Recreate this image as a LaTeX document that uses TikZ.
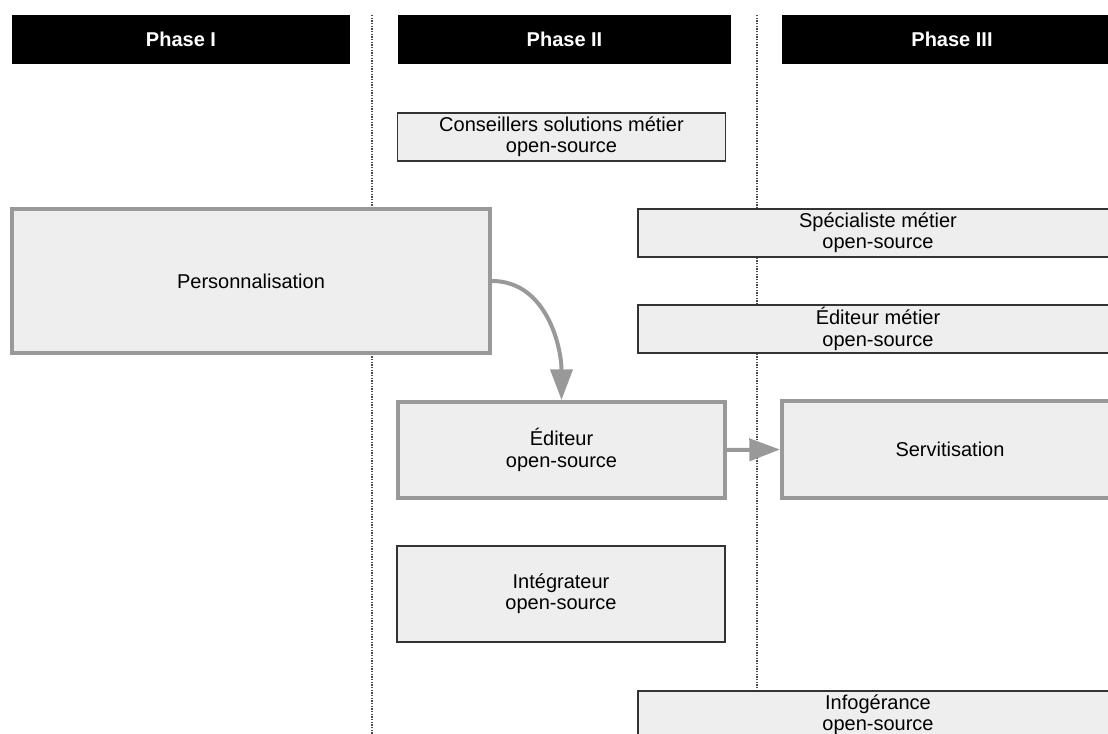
\documentclass[tikz,border=0pt]{standalone}
\usepackage{fontspec}
\setmainfont{Liberation Sans}
\usetikzlibrary{arrows.meta}
\definecolor{boxfill}{HTML}{EEEEEE}
\definecolor{thickgray}{HTML}{999999}
\definecolor{thinline}{HTML}{333333}

\begin{document}
\begin{tikzpicture}[x=0.75pt,y=-0.75pt,
  phase/.style={fill=black,text=white,font=\bfseries\fontsize{15}{16}\selectfont,
    minimum height=49*0.75pt,inner sep=0pt},
  role/.style={draw=thinline,line width=1.1pt,fill=boxfill,align=center,
    font=\fontsize{15}{16}\selectfont,inner sep=0pt},
  stage/.style={draw=thickgray,line width=3pt,fill=boxfill,align=center,
    font=\fontsize{15}{16}\selectfont,inner sep=0pt},
  flow/.style={draw=thickgray,line width=3pt,-{Triangle[length=23pt,width=16.5pt]}}]
\useasboundingbox (0,0) rectangle (1108,734);
\clip (0,0) rectangle (1108,734);

% column separators
\draw[gray!60!black,line width=0.8pt,dash pattern=on 1pt off 1pt] (372,15) -- (372,734);
\draw[gray!60!black,line width=0.8pt,dash pattern=on 1pt off 1pt] (757,15) -- (757,734);

% phase headers
\node[phase,minimum width=338*0.75pt] (ph1) at (181,39.5) {Phase I};
\node[phase,minimum width=333*0.75pt] (ph2) at (564.5,39.5) {Phase II};
\node[phase,minimum width=340*0.75pt] (ph3) at (952,39.5) {Phase III};

% boxes
\node[role,minimum width=328*0.75pt,minimum height=48*0.75pt] (cons) at (561.5,137)
  {Conseillers solutions métier\\open-source};
\node[role,minimum width=480*0.75pt,minimum height=48*0.75pt] (spec) at (878,233)
  {Spécialiste métier\\open-source};
\node[stage,minimum width=478*0.75pt,minimum height=144*0.75pt] (perso) at (251,281)
  {Personnalisation};
\node[role,minimum width=480*0.75pt,minimum height=48*0.75pt] (edmet) at (878,329)
  {Éditeur métier\\open-source};
\node[stage,minimum width=327*0.75pt,minimum height=96*0.75pt] (edit) at (561.5,450)
  {Éditeur\\open-source};
\node[stage,minimum width=336*0.75pt,minimum height=97*0.75pt] (servit) at (950,449.5)
  {Servitisation};
\node[role,minimum width=328*0.75pt,minimum height=96*0.75pt] (integ) at (561,594)
  {Intégrateur\\open-source};
\node[role,minimum width=480*0.75pt,minimum height=48*0.75pt] (info) at (878,715)
  {Infogérance\\open-source};

% transitions
\draw[flow] (perso.east) to[out=0,in=90] (edit.north);
\draw[flow] (edit.east) -- (servit.west);
\end{tikzpicture}
\end{document}
